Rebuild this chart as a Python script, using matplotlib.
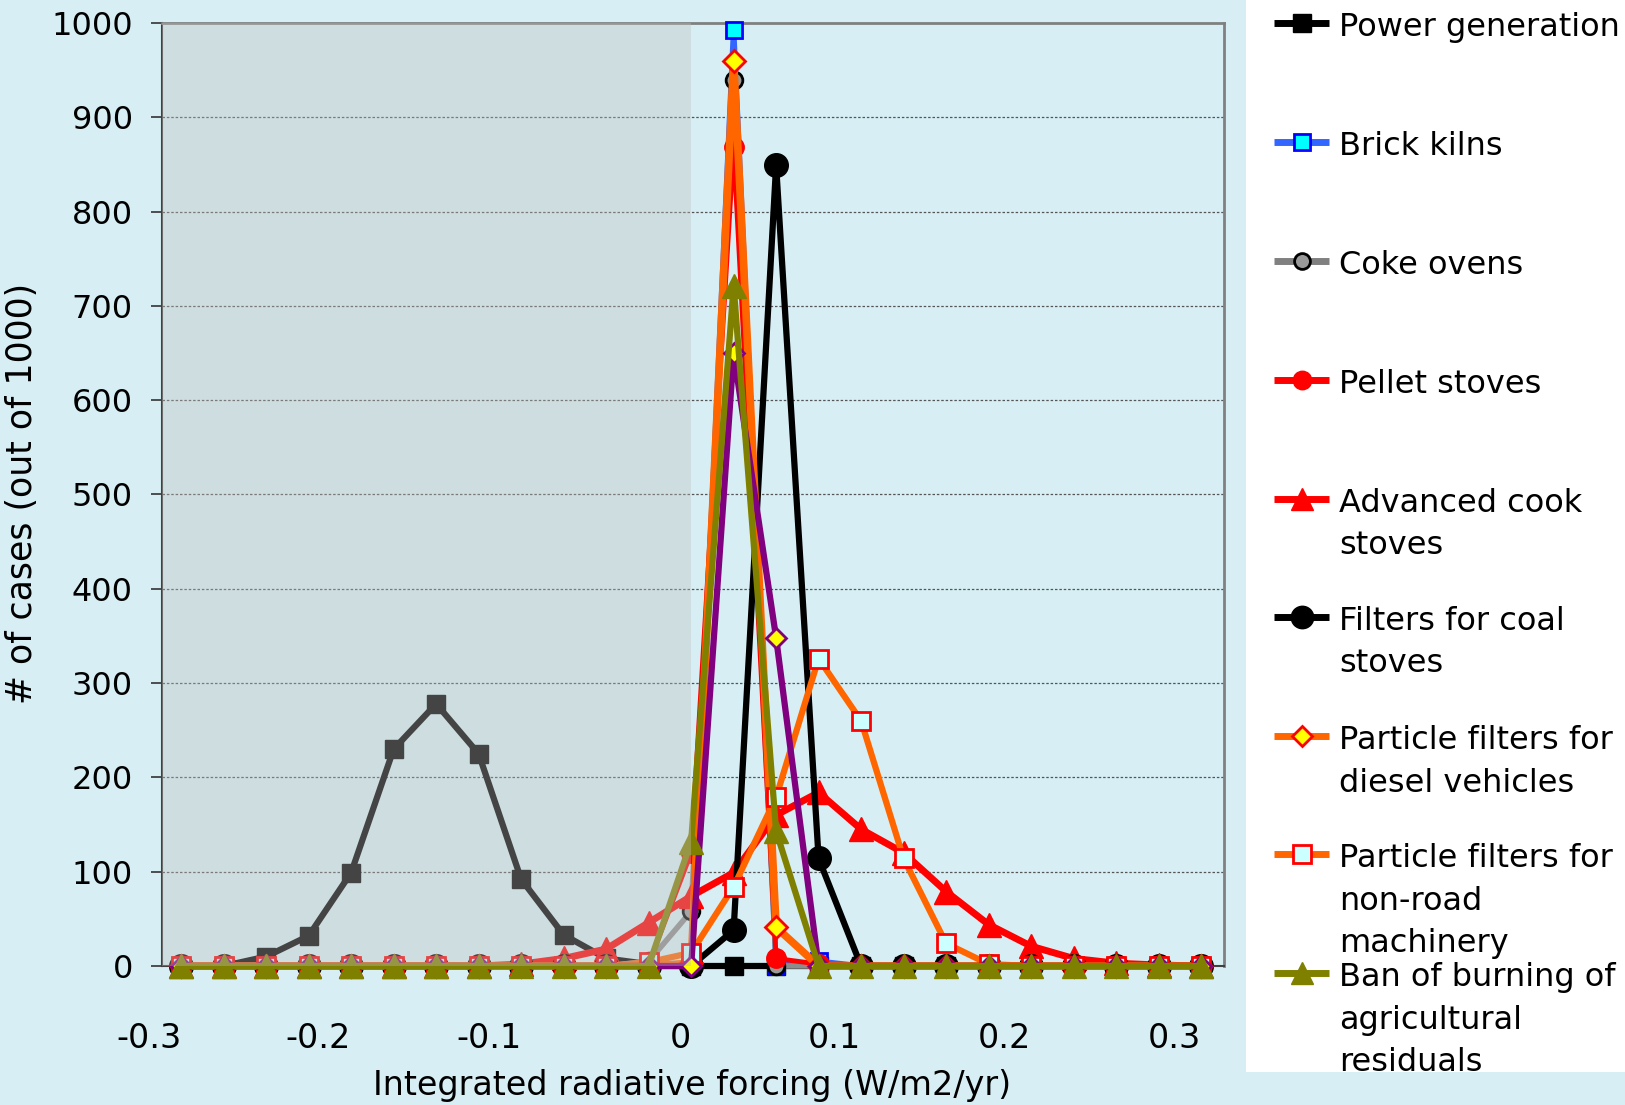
import matplotlib
matplotlib.use("Agg")
import matplotlib.pyplot as plt
from matplotlib.patches import Rectangle
from matplotlib.lines import Line2D
from matplotlib.transforms import Bbox, TransformedBbox

# ---------------- data ----------------
x_values = [-0.3, -0.275, -0.25, -0.225, -0.2, -0.175, -0.15, -0.125, -0.1, -0.075,
            -0.05, -0.025, 0.0, 0.025, 0.05, 0.075, 0.1, 0.125, 0.15, 0.175,
            0.2, 0.225, 0.25, 0.275, 0.3]

power_generation = [0, 0, 10, 32, 99, 230, 278, 225, 92, 33, 8, 2, 0, 0, 0, 0, 0, 0, 0, 0, 0, 0, 0, 0, 0]
brick_kilns      = [0, 0, 0, 0, 0, 0, 0, 0, 0, 0, 0, 0, 0, 993, 0, 5, 0, 0, 0, 0, 0, 0, 0, 0, 0]
coke_ovens       = [0, 0, 0, 0, 0, 0, 0, 0, 0, 0, 0, 5, 58, 940, 0, 0, 0, 0, 0, 0, 0, 0, 0, 0, 0]
pellet_stoves    = [0, 0, 0, 0, 0, 0, 0, 0, 0, 0, 0, 2, 120, 868, 8, 2, 0, 0, 0, 0, 0, 0, 0, 0, 0]
advanced_cook    = [0, 0, 0, 0, 0, 0, 0, 0, 2, 8, 18, 46, 74, 99, 160, 184, 145, 120, 79, 44, 21, 8, 3, 1, 0]
filters_coal     = [0, 0, 0, 0, 0, 0, 0, 0, 0, 0, 0, 0, 0, 38, 849, 114, 0, 0, 0, 0, 0, 0, 0, 0, 0]
pf_diesel        = [0, 0, 0, 0, 0, 0, 0, 0, 0, 0, 0, 0, 3, 960, 41, 0, 0, 0, 0, 0, 0, 0, 0, 0, 0]
pf_nonroad       = [0, 0, 0, 0, 0, 0, 0, 0, 0, 0, 0, 4, 14, 84, 179, 326, 260, 114, 24, 2, 0, 0, 0, 0, 0]
unnamed_purple   = [0, 0, 0, 0, 0, 0, 0, 0, 0, 0, 0, 0, 0, 650, 348, 0, 0, 0, 0, 0, 0, 0, 0, 0, 0]
ban_burning      = [0, 0, 0, 0, 0, 0, 0, 0, 0, 0, 0, 0, 132, 721, 143, 0, 0, 0, 0, 0, 0, 0, 0, 0, 0]

y_ticks = [0, 100, 200, 300, 400, 500, 600, 700, 800, 900, 1000]
x_ticks = [-0.3, -0.2, -0.1, 0, 0.1, 0.2, 0.3]
x_tick_labels = ["-0.3", "-0.2", "-0.1", "0", "0.1", "0.2", "0.3"]

legend_labels = ["Power generation", "Brick kilns", "Coke ovens", "Pellet stoves",
                 "Advanced cook\nstoves", "Filters for coal\nstoves",
                 "Particle filters for\ndiesel vehicles",
                 "Particle filters for\nnon-road\nmachinery",
                 "Ban of burning of\nagricultural\nresiduals"]

# ---------------- styles ----------------
BG = "#d7eff4"
styles = [
    dict(color="#000000", lw=4.5, marker="s", ms=13, mfc="#000000", mec="#000000", mew=1),
    dict(color="#3366ff", lw=4.0, marker="s", ms=12, mfc="#00ffff", mec="#0000ff", mew=2),
    dict(color="#8c8c8c", lw=4.0, marker="o", ms=12, mfc="#999999", mec="#000000", mew=2),
    dict(color="#ff0000", lw=3.5, marker="o", ms=14, mfc="#ff0000", mec="#ff0000", mew=1),
    dict(color="#ff0000", lw=5.0, marker="^", ms=17, mfc="#ff0000", mec="#ff0000", mew=1),
    dict(color="#000000", lw=4.5, marker="o", ms=17, mfc="#000000", mec="#000000", mew=1),
    dict(color="#ff6600", lw=5.5, marker="D", ms=11, mfc="#ffff00", mec="#ff0000", mew=2),
    dict(color="#ff6600", lw=4.5, marker="s", ms=13, mfc="#ccffff", mec="#ff0000", mew=2),
    dict(color="#800080", lw=4.5, marker="D", ms=10, mfc="#ffff00", mec="#800080", mew=2),
    dict(color="#808000", lw=4.5, marker="^", ms=17, mfc="#808000", mec="#808000", mew=1),
]
series = [power_generation, brick_kilns, coke_ovens, pellet_stoves, advanced_cook,
          filters_coal, pf_diesel, pf_nonroad, unnamed_purple, ban_burning]

W, H = 1625, 1105
fig = plt.figure(figsize=(W / 100, H / 100), dpi=100)
fig.patch.set_facecolor(BG)

ax_l, ax_r, ax_t, ax_b = 162, 1224, 23, 966
ax = fig.add_axes([ax_l / W, 1 - ax_b / H, (ax_r - ax_l) / W, (ax_b - ax_t) / H])
ax.set_facecolor(BG)

xmin, xmax = -0.3113, 0.3135
ax.set_xlim(xmin, xmax)
ax.set_ylim(0, 1000)

for i, (vals, st) in enumerate(zip(series, styles)):
    ax.plot(x_values, vals, linestyle="-", solid_joinstyle="miter", clip_on=False,
            zorder=3 + i * 0.1, **st)

# shaded overlay (negative forcing region)
ax.add_patch(Rectangle((xmin, 0), 0 - xmin, 1000, facecolor="#bebebe", alpha=0.36,
                       edgecolor="none", zorder=5))

# grid
for yv in y_ticks[1:-1]:
    ax.axhline(yv, color="#555555", lw=0.9, ls=(0, (2, 1.5)), zorder=1)

ax.set_yticks(y_ticks)
ax.set_yticklabels([str(v) for v in y_ticks])
ax.tick_params(axis="y", length=8, width=1.2, color="#333333", pad=13, labelsize=23)

ax.set_xticks(x_ticks)
ax.set_xticklabels(x_tick_labels)
ax.xaxis.set_tick_params(length=0, labelsize=24)
for tk in ax.xaxis.get_major_ticks():
    tk.set_pad(40)
for lbl in ax.get_xticklabels():
    lbl.set_horizontalalignment("right")

for s in ["top", "right"]:
    ax.spines[s].set_color("#808080")
    ax.spines[s].set_linewidth(2)
ax.spines["left"].set_color("#404040")
ax.spines["left"].set_linewidth(1.5)
ax.spines["bottom"].set_color("#404040")
ax.spines["bottom"].set_linewidth(1.5)

fig.text(692 / W, 1 - 1085 / H, "Integrated radiative forcing (W/m2/yr)",
         ha="center", va="center", fontsize=24)
fig.text(22 / W, 1 - 493 / H, "# of cases (out of 1000)", rotation=90,
         ha="center", va="center", fontsize=25)

# ---------------- legend ----------------
leg_x0, leg_y1 = 1246, 1072
rect = Rectangle((leg_x0 / W, 1 - leg_y1 / H), (W - leg_x0) / W, leg_y1 / H,
                 transform=fig.transFigure, facecolor="white", edgecolor="none", zorder=10)
fig.add_artist(rect)
clip = TransformedBbox(Bbox([[leg_x0 / W, 1 - leg_y1 / H], [1.0, 1.0]]), fig.transFigure)

handle_y = [23, 142, 261, 380, 499, 617, 736, 854, 973]
legend_styles = [styles[0], styles[1], styles[2], styles[3], styles[4], styles[5],
                 styles[6], styles[7], styles[9]]
legend_line_colors = ["#000000", "#3366ff", "#808080", "#ff0000", "#ff0000", "#000000",
                      "#ff6600", "#ff6600", "#808000"]
hx0, hx1 = 1274, 1329
for lab, st, lc, hy in zip(legend_labels, legend_styles, legend_line_colors, handle_y):
    fy = 1 - hy / H
    ln = Line2D([hx0 / W, (hx0 + hx1) / 2 / W, hx1 / W], [fy, fy, fy],
                transform=fig.transFigure, color=lc, lw=5, marker=st["marker"],
                ms=st["ms"] * 0.95, mfc=st["mfc"], mec=st["mec"], mew=st["mew"],
                markevery=[1], zorder=11, solid_capstyle="butt")
    fig.add_artist(ln)
    for k, line in enumerate(lab.split("\n")):
        by = hy + 13 + k * 42.5
        t = fig.text(1339 / W, 1 - by / H, line, ha="left", va="baseline",
                     fontsize=23, zorder=12)
        t.set_clip_box(clip)
        t.set_clip_on(True)

fig.savefig("out.png", dpi=100, facecolor=BG)
